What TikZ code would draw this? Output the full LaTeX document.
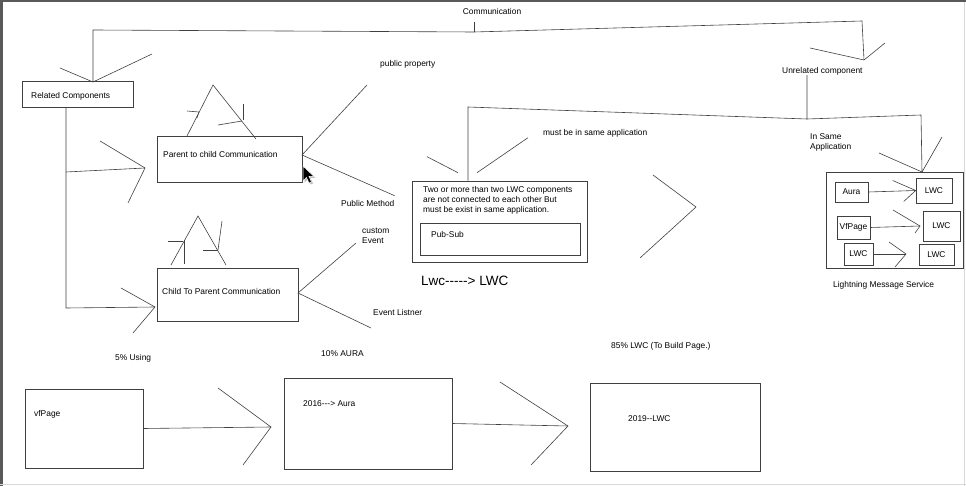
\documentclass[tikz,border=0pt]{standalone}
\usepackage{fontspec}
\setmainfont{Liberation Sans}[Ligatures=TeXOff]
\usetikzlibrary{positioning, calc}

\begin{document}
\begin{tikzpicture}[x=1pt, y=-1pt,
        ln/.style={black!75, line width=0.6pt},
        box/.style={draw=black!75, line width=0.6pt, inner sep=0pt, font=\fontsize{8.4}{10}\selectfont},
        lbl/.style={anchor=west, inner sep=0pt, align=left, font=\fontsize{8.4}{10}\selectfont}]

        \useasboundingbox (0,0) rectangle (966,486);
        % screen frame
        \fill[black!65] (0,0) rectangle (966,2);
        \fill[black!65] (0,0) rectangle (3,486);
        \draw[black!15] (0,484.5) -- (966,484.5);
        \draw[black!15] (964.5,2) -- (964.5,486);

        % boxes
        \node[box, minimum width=111pt, minimum height=26pt] (related) at (77.5,94) {};
        \node[box, minimum width=145pt, minimum height=46pt] (parent) at (229.5,159) {};
        \node[box, minimum width=141pt, minimum height=53pt] (child) at (227.5,294.5) {};
        \node[box, minimum width=175pt, minimum height=81pt] (twomore) at (499.5,221.5) {};
        \node[box, minimum width=160pt, minimum height=32pt] (pubsub) at (500,239) {};
        \node[box, minimum width=118pt, minimum height=79pt] (vfpage) at (84,428.5) {};
        \node[box, minimum width=168pt, minimum height=91pt] (aura) at (368,423.5) {};
        \node[box, minimum width=170pt, minimum height=88pt] (lwc) at (675,427) {};
        \node[box, minimum width=137pt, minimum height=96pt] (lms) at (894.5,220) {};
        \node[box, minimum width=33pt, minimum height=20pt] (lmsaura) at (851.5,192) {Aura};
        \node[box, minimum width=36pt, minimum height=25pt] (lmslwca) at (934,190.5) {LWC};
        \node[box, minimum width=33pt, minimum height=23pt] (lmsvf) at (853.5,227.5) {VfPage};
        \node[box, minimum width=37pt, minimum height=30pt] (lmslwcb) at (941.5,226) {LWC};
        \node[box, minimum width=29pt, minimum height=22pt] (lmslwcc) at (858.5,254) {LWC};
        \node[box, minimum width=35pt, minimum height=21pt] (lmslwcd) at (936.5,254.5) {LWC};

        % texts
        \node[lbl, anchor=center] (comm) at (492,12) {Communication};
        \node[lbl] (relatedtxt) at (31,96) {Related Components};
        \node[lbl] (parenttxt) at (163,154) {Parent to child Communication};
        \node[lbl] (childtxt) at (162,291) {Child To Parent Communication};
        \node[lbl] (twomoretxt) at (423,200) {Two or more than two LWC components\\are not connected to each other But\\must be exist in same application.};
        \node[lbl] (pubsubtxt) at (431,234) {Pub-Sub};
        \node[lbl, font=\fontsize{13.5}{15}\selectfont] (lwclwc) at (421,281) {Lwc-----> LWC};
        \node[lbl] (pubprop) at (380,64) {public property};
        \node[lbl] (pubmeth) at (341,203) {Public Method};
        \node[lbl] (custev) at (362,235.5) {custom\\Event};
        \node[lbl] (evlist) at (373,312) {Event Listner};
        \node[lbl] (unrel) at (782,71) {Unrelated component};
        \node[lbl] (sameapp) at (543,133) {must be in same application};
        \node[lbl] (insame) at (810,142) {In Same\\Application};
        \node[lbl] (lmstxt) at (833,285) {Lightning Message Service};
        \node[lbl] (using) at (115,358) {5\% Using};
        \node[lbl] (auraper) at (321,354) {10\% AURA};
        \node[lbl] (lwcper) at (611,346) {85\% LWC (To Build Page.)};
        \node[lbl] (vfpagetxt) at (34,414) {vfPage};
        \node[lbl] (auratxt) at (303,404) {2016---> Aura};
        \node[lbl] (lwctxt) at (628,419) {2019--LWC};

        % communication bracket
        \coordinate (commjoin) at (474,32);
        \coordinate (commtipL) at (93,82);
        \coordinate (commtipR) at (864,60);
        \draw[ln] (474,22) -- (commjoin);
        \draw[ln] (commtipL) -- (93,30) -- (commjoin) -- (862,21) -- (commtipR);
        \draw[ln] (commtipL) ++(-33,-14) -- (commtipL) -- ++(59,-28);
        \draw[ln] (commtipR) ++(-54,-12) -- (commtipR) -- ++(21,-17);

        % related components
        \coordinate (reljoin) at (66,172);
        \coordinate (reltipP) at (145,168);
        \coordinate (reltipC) at (155,307);
        \draw[ln] (related.south -| reljoin) -- (66,308) -- (reltipC);
        \draw[ln] (reljoin) -- (reltipP);
        \draw[ln] (reltipP) ++(-45,-27) -- (reltipP) -- ++(-17,35);
        \draw[ln] (reltipC) ++(-34,-19) -- (reltipC) -- ++(-22,26);

        % parent loop
        \draw[ln] (187,136) -- (213,85) -- (256,139);
        \draw[ln] (187,111) -- (199,112) -- (197,118);
        \draw[ln] (218,125) -- (242,121);
        \draw[ln] (243,104) -- (243,120);
        \coordinate (parentpt) at (302,155);
        \draw[ln] (pubprop.west) ++(-13,21) -- (parentpt) -- ($(pubmeth.north east)+(0,-4)$);

        % child loop
        \draw[ln] (171,265) -- (198,216) -- (226,265);
        \draw[ln] (168,241) -- (183,241);
        \draw[ln] (184,240) -- (184,264);
        \draw[ln] (222,221) -- (218,250);
        \draw[ln] (203,250) -- (218,250);
        \coordinate (childpt) at (298,293);
        \draw[ln] (356,243) -- (childpt) -- (371,328);

        % unrelated component
        \coordinate (unreljoin) at (807,119);
        \coordinate (unrelL) at (468,107);
        \coordinate (unrelR) at (921,115);
        \coordinate (lmstip) at (922,172);
        \draw[ln] (unrel.south -| unreljoin) -- (unreljoin) -- (unrelL) -- (twomore.north -| unrelL);
        \draw[ln] (unreljoin) -- (unrelR) -- (lmstip);
        \draw[ln] (twomore.north -| unrelL) ++(-41,-24) -- ++(31,16);
        \draw[ln] (twomore.north -| unrelL) ++(9,-8) -- ++(51,-35);
        \draw[ln] (lmstip) ++(-43,-19) -- (lmstip) -- ++(20,-35);

        % lone arrow head
        \coordinate (lonetip) at (696,207);
        \draw[ln] (lonetip) ++(-43,-32) -- (lonetip) -- ++(-56,51);

        % lightning message service
        \coordinate (tipB) at (920,226);
        \coordinate (tipC) at (906,254);
        \draw[ln] (lmsaura.east) -- (lmslwca.west);
        \draw[ln] (lmslwca.west) ++(-23,-10) -- (lmslwca.west) -- ++(-12,11);
        \draw[ln] (lmsvf.east) -- (tipB);
        \draw[ln] (tipB) ++(-27,-16) -- (tipB) -- ++(-5,7);
        \draw[ln] (lmslwcc.east) -- (tipC);
        \draw[ln] (tipC) ++(-17,-12) -- (tipC) -- ++(-11,13);

        % timeline
        \coordinate (tip1) at (271,427);
        \coordinate (tip2) at (568,426);
        \draw[ln] (vfpage.east) -- (tip1);
        \draw[ln] (tip1) ++(-53,-39) -- (tip1) -- ++(-28,38);
        \draw[ln] (aura.east) -- (tip2);
        \draw[ln] (tip2) ++(-68,-44) -- (tip2) -- ++(-37,39);

        % mouse pointer
        \fill[black!25] (304.5,167.5) -- ++(0,15) -- ++(3.5,-3.5) -- ++(2.5,5.5) -- ++(2.5,-1) -- ++(-2.5,-5.5) -- ++(5,0) -- cycle;
        \draw[white, fill=black, line width=0.5pt] (303,166) -- ++(0,15) -- ++(3.5,-3.5) -- ++(2.5,5.5) -- ++(2.5,-1) -- ++(-2.5,-5.5) -- ++(5,0) -- cycle;

      \end{tikzpicture}
\end{document}
